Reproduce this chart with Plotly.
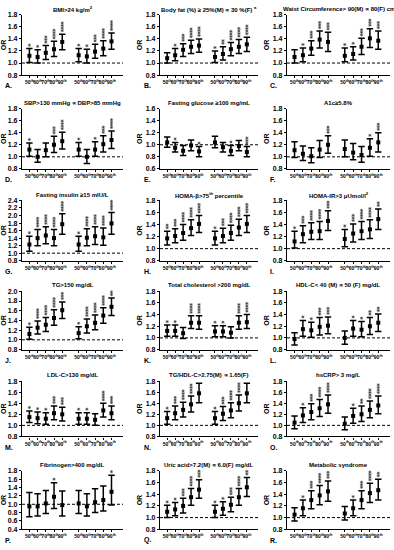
import plotly.graph_objects as go

W, H = 394, 550

x_pos = [1, 2, 3, 4, 5, 7, 8, 9, 10, 11]
pct_labels = ["50<sup>th</sup>", "60<sup>th</sup>", "70<sup>th</sup>", "80<sup>th</sup>", "90<sup>th</sup>"] * 2

letters = list("ABCDEFGHIJKLMNOPQR")
titles = [
    "BMI>24 kg/m<sup>2</sup>",
    "Body fat (%) ≥ 25%(M) ∝ 30 %(F) <sup>a</sup>",
    "Waist Circumference> 90(M) ∝ 80(F) cm",
    "SBP>130 mmHg ∝ DBP>85 mmHg",
    "Fasting glucose ≥100 mg/mL",
    "A1c≥5.8%",
    "Fasting insulin ≥15 mIU/L",
    "HOMA-β>75<sup>th</sup> percentile",
    "HOMA-IR>3 μUmol/l<sup>2</sup>",
    "TG>150 mg/dL",
    "Total cholesterol >200 mg/dL",
    "HDL-C< 40 (M) ∝ 50 (F) mg/dL",
    "LDL-C>130 mg/dL",
    "TG/HDL-C>2.75(M) ∝ 1.65(F)",
    "hsCRP> 3 mg/L",
    "Fibrinogen>400 mg/dL",
    "Uric acid>7.2(M) ∝ 6.0(F) mg/dL",
    "Metabolic syndrome",
]

or_A = [1.12, 1.10, 1.17, 1.23, 1.35, 1.13, 1.11, 1.19, 1.24, 1.36]
lo_A = [1.01, 1.00, 1.06, 1.11, 1.22, 1.02, 1.00, 1.08, 1.12, 1.23]
hi_A = [1.24, 1.22, 1.29, 1.36, 1.48, 1.24, 1.23, 1.31, 1.37, 1.50]
st_A = [1, 1, 3, 4, 4, 1, 1, 3, 4, 4]

or_B = [1.08, 1.13, 1.22, 1.27, 1.29, 1.10, 1.15, 1.23, 1.27, 1.31]
lo_B = [1.00, 1.04, 1.11, 1.16, 1.18, 1.01, 1.05, 1.12, 1.16, 1.19]
hi_B = [1.17, 1.24, 1.32, 1.38, 1.40, 1.20, 1.27, 1.34, 1.39, 1.43]
st_B = [0, 1, 3, 4, 4, 1, 2, 4, 4, 4]

or_C = [1.10, 1.13, 1.24, 1.39, 1.35, 1.12, 1.15, 1.27, 1.41, 1.37]
lo_C = [1.00, 1.02, 1.13, 1.25, 1.19, 1.02, 1.05, 1.14, 1.26, 1.23]
hi_C = [1.22, 1.25, 1.37, 1.53, 1.51, 1.25, 1.27, 1.41, 1.57, 1.53]
st_C = [0, 1, 3, 3, 3, 1, 1, 3, 3, 3]

or_D = [1.12, 1.00, 1.11, 1.20, 1.26, 1.12, 1.00, 1.12, 1.21, 1.28]
lo_D = [1.01, 0.91, 1.00, 1.07, 1.13, 1.01, 0.89, 1.01, 1.08, 1.14]
hi_D = [1.23, 1.12, 1.23, 1.34, 1.41, 1.24, 1.12, 1.25, 1.35, 1.43]
st_D = [1, 0, 0, 3, 4, 1, 0, 1, 3, 4]

or_E = [1.04, 0.95, 0.90, 0.99, 0.89, 1.04, 0.96, 0.90, 0.98, 0.88]
lo_E = [0.96, 0.88, 0.82, 0.90, 0.80, 0.95, 0.88, 0.82, 0.90, 0.80]
hi_E = [1.13, 1.04, 0.99, 1.08, 0.97, 1.14, 1.04, 0.99, 1.07, 0.97]
st_E = [0, 1, 0, 0, 1, 0, 0, 1, 0, 3]

or_F = [1.11, 1.05, 1.01, 1.12, 1.20, 1.13, 1.07, 1.03, 1.15, 1.24]
lo_F = [0.99, 0.94, 0.90, 0.99, 1.06, 1.00, 0.95, 0.91, 1.01, 1.08]
hi_F = [1.25, 1.18, 1.15, 1.27, 1.35, 1.28, 1.22, 1.17, 1.30, 1.40]
st_F = [0, 0, 0, 0, 3, 0, 0, 0, 1, 3]

or_G = [1.23, 1.40, 1.47, 1.40, 1.77, 1.23, 1.41, 1.45, 1.42, 1.79]
lo_G = [1.05, 1.20, 1.25, 1.20, 1.50, 1.05, 1.20, 1.23, 1.21, 1.50]
hi_G = [1.45, 1.63, 1.70, 1.63, 2.05, 1.45, 1.65, 1.70, 1.67, 2.08]
st_G = [1, 4, 4, 4, 4, 1, 4, 4, 4, 4]

or_H = [1.17, 1.21, 1.26, 1.34, 1.41, 1.17, 1.21, 1.26, 1.35, 1.41]
lo_H = [1.06, 1.10, 1.14, 1.22, 1.27, 1.06, 1.10, 1.14, 1.22, 1.27]
hi_H = [1.29, 1.33, 1.40, 1.48, 1.55, 1.29, 1.34, 1.39, 1.49, 1.55]
st_H = [2, 3, 4, 4, 4, 1, 3, 4, 4, 4]

or_I = [1.12, 1.24, 1.28, 1.29, 1.46, 1.16, 1.25, 1.29, 1.32, 1.49]
lo_I = [1.01, 1.10, 1.15, 1.15, 1.30, 1.03, 1.11, 1.15, 1.17, 1.32]
hi_I = [1.29, 1.38, 1.43, 1.45, 1.63, 1.32, 1.41, 1.45, 1.48, 1.66]
st_I = [1, 3, 4, 4, 4, 1, 3, 4, 4, 4]

or_J = [1.12, 1.25, 1.31, 1.45, 1.61, 1.14, 1.28, 1.35, 1.50, 1.68]
lo_J = [1.01, 1.12, 1.17, 1.30, 1.44, 1.02, 1.14, 1.21, 1.34, 1.50]
hi_J = [1.26, 1.39, 1.46, 1.62, 1.78, 1.27, 1.43, 1.51, 1.66, 1.86]
st_J = [1, 4, 4, 4, 4, 1, 4, 4, 4, 4]

or_K = [1.12, 1.12, 1.08, 1.26, 1.26, 1.11, 1.11, 1.09, 1.26, 1.27]
lo_K = [1.03, 1.03, 0.99, 1.16, 1.15, 1.02, 1.02, 1.00, 1.15, 1.16]
hi_K = [1.22, 1.22, 1.18, 1.38, 1.38, 1.21, 1.21, 1.19, 1.38, 1.40]
st_K = [1, 1, 0, 4, 4, 1, 1, 0, 4, 4]

or_L = [0.98, 1.15, 1.13, 1.19, 1.21, 1.00, 1.16, 1.14, 1.20, 1.26]
lo_L = [0.88, 1.03, 1.01, 1.05, 1.07, 0.89, 1.03, 1.02, 1.06, 1.11]
hi_L = [1.09, 1.30, 1.27, 1.35, 1.36, 1.12, 1.30, 1.28, 1.35, 1.41]
st_L = [0, 1, 1, 3, 3, 0, 1, 1, 2, 2]

or_M = [1.15, 1.13, 1.12, 1.22, 1.20, 1.12, 1.12, 1.10, 1.27, 1.22]
lo_M = [1.05, 1.03, 1.02, 1.10, 1.08, 1.02, 1.02, 1.00, 1.15, 1.10]
hi_M = [1.26, 1.24, 1.23, 1.35, 1.33, 1.23, 1.23, 1.21, 1.40, 1.35]
st_M = [1, 1, 1, 3, 3, 1, 1, 0, 4, 3]

or_N = [1.13, 1.22, 1.28, 1.38, 1.58, 1.13, 1.21, 1.27, 1.40, 1.58]
lo_N = [1.02, 1.10, 1.15, 1.24, 1.41, 1.02, 1.09, 1.14, 1.26, 1.41]
hi_N = [1.25, 1.35, 1.42, 1.53, 1.76, 1.25, 1.34, 1.41, 1.55, 1.76]
st_N = [1, 3, 4, 4, 4, 1, 3, 4, 4, 4]

or_O = [1.05, 1.18, 1.24, 1.31, 1.38, 1.03, 1.17, 1.20, 1.28, 1.36]
lo_O = [0.94, 1.05, 1.10, 1.16, 1.22, 0.92, 1.04, 1.07, 1.14, 1.21]
hi_O = [1.17, 1.32, 1.39, 1.47, 1.55, 1.15, 1.31, 1.35, 1.44, 1.53]
st_O = [0, 1, 3, 4, 4, 0, 1, 2, 4, 4]

or_P = [0.95, 0.95, 1.02, 1.18, 0.98, 1.02, 0.95, 1.05, 1.10, 1.30]
lo_P = [0.70, 0.72, 0.78, 0.90, 0.72, 0.78, 0.72, 0.80, 0.84, 0.98]
hi_P = [1.28, 1.25, 1.33, 1.52, 1.32, 1.33, 1.25, 1.37, 1.44, 1.70]
st_P = [0, 0, 0, 1, 0, 0, 0, 0, 0, 1]

or_Q = [1.10, 1.14, 1.20, 1.35, 1.48, 1.10, 1.15, 1.22, 1.35, 1.52]
lo_Q = [1.00, 1.03, 1.08, 1.21, 1.33, 1.00, 1.04, 1.10, 1.21, 1.36]
hi_Q = [1.21, 1.26, 1.33, 1.50, 1.65, 1.21, 1.27, 1.35, 1.50, 1.69]
st_Q = [1, 1, 3, 4, 4, 1, 1, 3, 4, 4]

or_R = [1.05, 1.16, 1.30, 1.38, 1.45, 1.07, 1.16, 1.30, 1.42, 1.47]
lo_R = [0.94, 1.03, 1.15, 1.22, 1.28, 0.96, 1.03, 1.15, 1.26, 1.30]
hi_R = [1.17, 1.30, 1.46, 1.55, 1.63, 1.19, 1.30, 1.46, 1.59, 1.66]
st_R = [0, 1, 3, 4, 4, 0, 1, 3, 4, 4]

y_ranges = [
    [0.8, 1.8], [0.8, 1.8], [0.8, 1.8],
    [0.8, 1.8], [0.6, 1.6], [0.8, 1.8],
    [0.8, 2.4], [0.8, 1.8], [0.8, 1.8],
    [0.8, 2.0], [0.8, 1.8], [0.8, 1.8],
    [0.8, 1.8], [0.8, 1.8], [0.8, 1.8],
    [0.4, 1.8], [0.8, 1.8], [0.8, 1.8],
]

ORS = [or_A, or_B, or_C, or_D, or_E, or_F, or_G, or_H, or_I, or_J, or_K, or_L, or_M, or_N, or_O, or_P, or_Q, or_R]
LOS = [lo_A, lo_B, lo_C, lo_D, lo_E, lo_F, lo_G, lo_H, lo_I, lo_J, lo_K, lo_L, lo_M, lo_N, lo_O, lo_P, lo_Q, lo_R]
HIS = [hi_A, hi_B, hi_C, hi_D, hi_E, hi_F, hi_G, hi_H, hi_I, hi_J, hi_K, hi_L, hi_M, hi_N, hi_O, hi_P, hi_Q, hi_R]
STS = [st_A, st_B, st_C, st_D, st_E, st_F, st_G, st_H, st_I, st_J, st_K, st_L, st_M, st_N, st_O, st_P, st_Q, st_R]

# layout geometry (pixels)
col_px = [(22, 123), (160, 258), (287, 390)]
row_px = [(11, 72), (106, 167), (199, 260), (291, 350), (382, 438), (473, 532)]
letter_x = [3, 142, 268]

FONT = "Liberation Sans, Arial, sans-serif"

fig = go.Figure()
layout = dict(
    width=W, height=H,
    margin=dict(l=0, r=0, t=0, b=0),
    paper_bgcolor="white", plot_bgcolor="white",
    font=dict(family=FONT, color="black"),
    showlegend=False,
)
annotations = []
shapes = []

for i in range(18):
    r, c = divmod(i, 3)
    n = i + 1
    xa = "x" if n == 1 else f"x{n}"
    ya = "y" if n == 1 else f"y{n}"
    xkey = "xaxis" if n == 1 else f"xaxis{n}"
    ykey = "yaxis" if n == 1 else f"yaxis{n}"
    x0, x1 = col_px[c]
    t0, t1 = row_px[r]
    o, lo, hi, st = ORS[i], LOS[i], HIS[i], STS[i]
    yr = y_ranges[i]
    per_px = (yr[1] - yr[0]) / (t1 - t0)   # data units per pixel

    fig.add_trace(go.Scatter(
        x=x_pos, y=o, mode="markers", xaxis=xa, yaxis=ya,
        marker=dict(symbol="square", size=4, color="black"),
        error_y=dict(type="data", symmetric=False,
                     array=[h - v for h, v in zip(hi, o)],
                     arrayminus=[v - l for v, l in zip(o, lo)],
                     color="black", thickness=1.5, width=3.2),
        cliponaxis=False, hoverinfo="skip",
    ))

    # significance stars, stacked above the upper CI
    sx, sy = [], []
    for xv, h, k in zip(x_pos, hi, st):
        for j in range(k):
            sx.append(xv)
            sy.append(h + (3.5 + 2.6 * j) * per_px)
    if sx:
        fig.add_trace(go.Scatter(
            x=sx, y=sy, mode="markers", xaxis=xa, yaxis=ya,
            marker=dict(symbol="asterisk-open", size=2.6, color="#333333",
                        line=dict(color="#333333", width=0.6)),
            cliponaxis=False, hoverinfo="skip",
        ))

    layout[xkey] = dict(
        domain=[x0 / W, x1 / W], anchor=ya, range=[0.1, 12.4],
        tickmode="array", tickvals=x_pos, ticktext=pct_labels, tickangle=0,
        tickfont=dict(size=5, family=FONT, weight="bold", color="black"),
        showline=True, linecolor="black", linewidth=1.2,
        ticks="outside", ticklen=2, tickwidth=1, tickcolor="black",
        showgrid=False, zeroline=False, fixedrange=True,
    )
    layout[ykey] = dict(
        domain=[1 - t1 / H, 1 - t0 / H], anchor=xa, range=yr,
        dtick=0.2, tick0=0.0, tickformat=".1f",
        tickfont=dict(size=7, family=FONT, weight="bold", color="black"),
        showline=True, linecolor="black", linewidth=1.2,
        ticks="outside", ticklen=2, tickwidth=1, tickcolor="black",
        showgrid=False, zeroline=False, fixedrange=True,
        title=dict(text="OR", font=dict(size=7, family=FONT, weight="bold", color="black"), standoff=2),
    )
    shapes.append(dict(type="line", xref=f"{xa} domain", yref=ya,
                       x0=0, x1=1, y0=1.0, y1=1.0,
                       line=dict(color="black", width=1, dash="3px,2px")))
    # title
    annotations.append(dict(text="<b>" + titles[i] + "</b>", xref="paper", yref="paper",
                            x=(x0 + x1) / 2 / W, y=1 - (t0 - 6) / H,
                            xanchor="center", yanchor="middle", showarrow=False,
                            font=dict(size=6, family=FONT, color="black")))
    # letter
    annotations.append(dict(text="<b>" + letters[i] + ".</b>", xref="paper", yref="paper",
                            x=letter_x[c] / W, y=1 - (t1 + 11) / H,
                            xanchor="left", yanchor="middle", showarrow=False,
                            font=dict(size=7, family=FONT, color="black")))

layout["annotations"] = annotations
layout["shapes"] = shapes
fig.update_layout(**layout)
fig.write_html("out.html", config={"displayModeBar": False},
               post_script="document.body.style.margin='0';document.body.style.padding='0';")
